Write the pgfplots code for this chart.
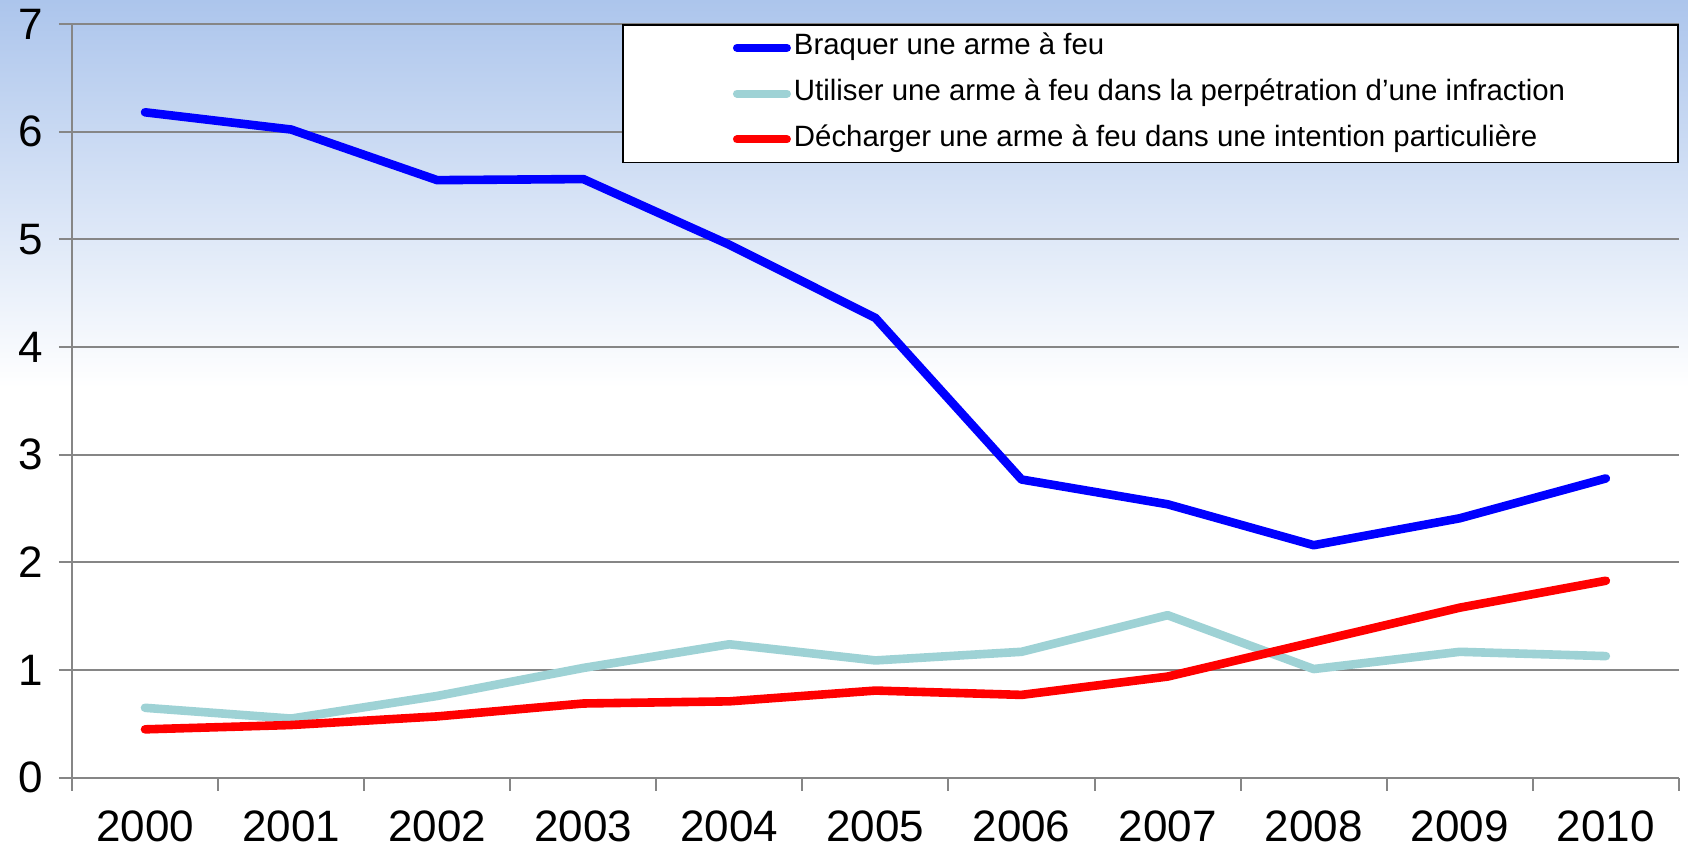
\documentclass[border=0pt]{standalone}
\usepackage{fontspec}
\setmainfont{Liberation Sans}
\usepackage{pgfplots}
\pgfplotsset{compat=1.18}
\definecolor{bgtop}{RGB}{172,197,236}
\definecolor{tealc}{RGB}{158,210,213}
\definecolor{gridc}{RGB}{134,134,134}
\begin{document}
\begin{tikzpicture}
\fill[white] (-36pt,-35.5pt) rectangle (808.2pt,389pt);
\shade[top color=bgtop, bottom color=white] (-36pt,195pt) rectangle (808.2pt,389pt);
\begin{axis}[at={(0,0)}, anchor=south west, scale only axis,
  width=803.65pt, height=377pt,
  xmin=-0.5, xmax=10.5, ymin=0, ymax=7,
  axis x line*=bottom, axis y line*=left,
  axis line style={draw=gridc, line width=1pt, -},
  ytick={0,1,2,3,4,5,6,7}, ymajorgrids,
  grid style={draw=gridc, line width=1pt},
  xtick={-0.5,0.5,1.5,2.5,3.5,4.5,5.5,6.5,7.5,8.5,9.5,10.5},
  xticklabels={},
  extra x ticks={0,1,2,3,4,5,6,7,8,9,10},
  extra x tick labels={2000,2001,2002,2003,2004,2005,2006,2007,2008,2009,2010},
  extra x tick style={major tick length=0pt, tick style={draw=none},
     xticklabel style={yshift=-13.2pt}},
  tick align=outside, major tick length=6.5pt,
  tick style={draw=gridc, line width=1pt},
  ticklabel style={font=\fontsize{22}{26}\selectfont},
  yticklabel style={xshift=-4.5pt},
  /pgf/number format/assume math mode=true,
  legend style={at={(1,1)}, anchor=north east, draw=black, line width=0.8pt,
    fill=white, font=\fontsize{14.7}{16}\selectfont,
    inner xsep=55pt, inner ysep=4pt, row sep=7.9pt,
    nodes={inner xsep=1.5pt, inner ysep=1pt, text height=10pt, text depth=3pt}},
  legend cell align=left,
  legend image code/.code={\draw[#1, line width=4pt, line cap=round] (3.5pt,0pt) -- (28.5pt,0pt);},
  every axis plot/.append style={line width=4.3pt, line cap=round, line join=round},
]
\addplot[color=blue] coordinates {(0,6.18) (1,6.02) (2,5.55) (3,5.56) (4,4.95) (5,4.27) (6,2.77) (7,2.54) (8,2.16) (9,2.41) (10,2.78)};
\addlegendentry{Braquer une arme à feu}
\addplot[color=tealc] coordinates {(0,0.65) (1,0.55) (2,0.76) (3,1.02) (4,1.24) (5,1.09) (6,1.17) (7,1.51) (8,1.01) (9,1.17) (10,1.13)};
\addlegendentry{Utiliser une arme à feu dans la perpétration d’une infraction}
\addplot[color=red] coordinates {(0,0.45) (1,0.49) (2,0.57) (3,0.69) (4,0.71) (5,0.81) (6,0.77) (7,0.94) (8,1.26) (9,1.58) (10,1.83)};
\addlegendentry{Décharger une arme à feu dans une intention particulière}
\end{axis}
\pgfresetboundingbox
\path[use as bounding box] (-36pt,-35.5pt) rectangle (808.2pt,389pt);
\end{tikzpicture}
\end{document}
